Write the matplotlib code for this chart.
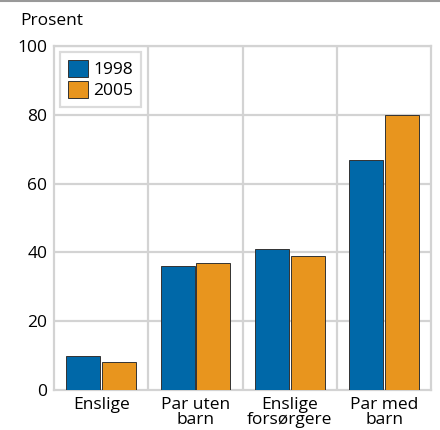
import numpy as np
import matplotlib
matplotlib.use('agg')
import matplotlib.pyplot as plt

categories = ['Enslige', 'Par uten\nbarn', 'Enslige\nforsørgere', 'Par med\nbarn']
years = ['1998', '2005']
v1998 = [10, 36, 41, 67]
v2005 = [8, 37, 39, 80]

plt.rcParams['font.family'] = ['Open Sans', 'DejaVu Sans']

fig = plt.figure(figsize=(4.4, 4.3), dpi=100)
ax = fig.add_axes([0.123, 0.093, 0.857, 0.80])

x = np.arange(len(categories))
w = 0.36
ax.bar(x - 0.19, v1998, w, color='#0068a8', edgecolor='#333333', linewidth=0.7, label=years[0], zorder=3)
ax.bar(x + 0.19, v2005, w, color='#e8951e', edgecolor='#333333', linewidth=0.7, label=years[1], zorder=3)

ax.set_xlim(-0.5, 3.5)
ax.set_ylim(0, 100)
ax.set_yticks([0, 20, 40, 60, 80, 100])
ax.set_xticks(x)
ax.set_xticklabels(categories, fontsize=12.5, linespacing=0.95)
ax.tick_params(axis='y', labelsize=12.5, length=0, pad=5)
ax.tick_params(axis='x', length=0, pad=5)

grid_c = '#d3d3d3'
for v in [20, 40, 60, 80, 100]:
    ax.axhline(v, color=grid_c, lw=1.6, zorder=1)
for b in [0.5, 1.5, 2.5]:
    ax.axvline(b, color=grid_c, lw=1.6, zorder=1)
for s in ax.spines.values():
    s.set_color(grid_c)
    s.set_linewidth(1.6)

ax.text(-0.09, 1.06, 'Prosent', transform=ax.transAxes, fontsize=12.5, ha='left', va='baseline')

leg = ax.legend(loc='upper left', bbox_to_anchor=(0.0, 1.0), fontsize=12.5, frameon=True,
                fancybox=False, handlelength=1.15, handleheight=1.15, handletextpad=0.3,
                borderpad=0.45, labelspacing=0.15, borderaxespad=0.35)
leg.get_frame().set_edgecolor(grid_c)
leg.get_frame().set_linewidth(1.6)

fig.add_artist(plt.Line2D([0, 1], [0.998, 0.998], transform=fig.transFigure, color='#999999', lw=1.5))

fig.savefig('out.png', dpi=100)
